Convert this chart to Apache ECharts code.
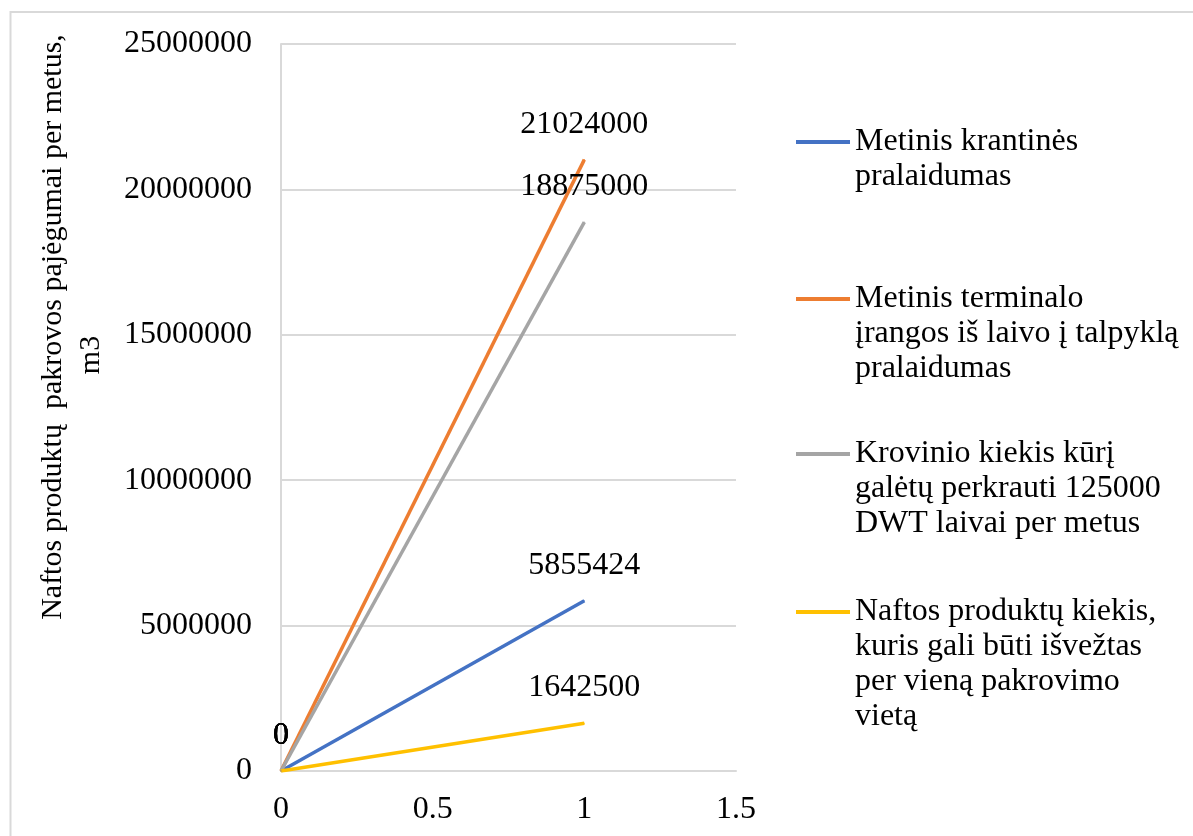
<!DOCTYPE html>
<html>
<head>
<meta charset="utf-8">
<script src="https://cdn.jsdelivr.net/npm/echarts@6/dist/echarts.min.js"></script>
<style>
  html, body { margin: 0; padding: 0; background: #fff; }
  #chart { width: 1193px; height: 836px; }
</style>
</head>
<body>
<div id="chart"></div>
<script>
// chart data
const xValues = [0, 1];
const seriesNames = [
  "Metinis krantinės pralaidumas",
  "Metinis terminalo įrangos iš laivo į talpyklą pralaidumas",
  "Krovinio kiekis kūrį galėtų perkrauti 125000 DWT laivai per metus",
  "Naftos produktų kiekis, kuris gali būti išvežtas per vieną pakrovimo vietą"
];
const legendLines = [
  ["Metinis krantinės", "pralaidumas"],
  ["Metinis terminalo", "įrangos iš laivo į talpyklą", "pralaidumas"],
  ["Krovinio kiekis kūrį", "galėtų perkrauti 125000", "DWT laivai per metus"],
  ["Naftos produktų kiekis,", "kuris gali būti išvežtas", "per vieną pakrovimo", "vietą"]
];
const krantinesValues = [0, 5855424];
const terminaloValues = [0, 21024000];
const krovinioValues = [0, 18875000];
const naftosValues = [0, 1642500];
const yAxisTitle = ["Naftos produktų  pakrovos pajėgumai per metus,", "m3"];

const colors = ["#4472C4", "#ED7D31", "#A5A5A5", "#FFC000"];
const FONT = "'Liberation Serif', 'Times New Roman', serif";
const FS = 32;
const LH = 35;

const allValues = [krantinesValues, terminaloValues, krovinioValues, naftosValues];

// y of the first legend line for each item
const legendFirstY = [142, 299, 454, 612];

const chart = echarts.init(document.getElementById("chart"));

const legends = seriesNames.map((name, i) => {
  const n = legendLines[i].length;
  return {
    data: [name],
    left: 796,
    top: legendFirstY[i] - (n - 1) * LH - LH / 2,
    padding: 0,
    icon: "rect",
    itemWidth: 54,
    itemHeight: 4,
    selectedMode: false,
    textStyle: { fontFamily: FONT, fontSize: FS, color: "#000", lineHeight: LH },
    // blank lines above keep the icon level with the first text line
    formatter: () => "\n".repeat(n - 1) + legendLines[i].join("\n")
  };
});

chart.setOption({
  animation: false,
  color: colors,
  grid: { left: 281, top: 44, width: 455, height: 727 },
  legend: legends,
  xAxis: {
    type: "value",
    min: 0,
    max: 1.5,
    interval: 0.5,
    axisLine: { show: true, lineStyle: { color: "#D9D9D9", width: 2 } },
    axisTick: { show: false },
    splitLine: { show: false },
    axisLabel: { margin: 23, fontFamily: FONT, fontSize: FS, color: "#000" }
  },
  yAxis: {
    type: "value",
    min: 0,
    max: 25000000,
    interval: 5000000,
    axisLine: { show: true, lineStyle: { color: "#D9D9D9", width: 2 } },
    axisTick: { show: false },
    splitLine: { show: true, lineStyle: { color: "#D9D9D9", width: 2 } },
    axisLabel: {
      margin: 29,
      fontFamily: FONT,
      fontSize: FS,
      color: "#000",
      formatter: (v) => String(v)
    }
  },
  series: seriesNames.map((name, i) => ({
    name: name,
    type: "line",
    symbol: "circle",
    symbolSize: 1,
    showSymbol: true,
    data: xValues.map((x, k) => [x, allValues[i][k]]),
    lineStyle: { width: 3.5, color: colors[i] },
    itemStyle: { color: colors[i] },
    label: {
      show: true,
      position: "top",
      distance: 19,
      fontFamily: FONT,
      fontSize: FS,
      color: "#000",
      formatter: (p) => String(p.value[1])
    }
  })),
  graphic: [
    {
      type: "rect",
      shape: { x: 10.5, y: 12, width: 1300, height: 1000 },
      style: { fill: null, stroke: "#D9D9D9", lineWidth: 2 },
      silent: true
    },
    {
      type: "text",
      x: 53,
      y: 327,
      rotation: Math.PI / 2,
      style: {
        text: yAxisTitle[0],
        fontFamily: FONT,
        fontSize: 30,
        fill: "#000",
        align: "center",
        verticalAlign: "middle"
      }
    },
    {
      type: "text",
      x: 91,
      y: 355,
      rotation: Math.PI / 2,
      style: {
        text: yAxisTitle[1],
        fontFamily: FONT,
        fontSize: 30,
        fill: "#000",
        align: "center",
        verticalAlign: "middle"
      }
    }
  ]
});

window.addEventListener("resize", () => chart.resize());
</script>
</body>
</html>
